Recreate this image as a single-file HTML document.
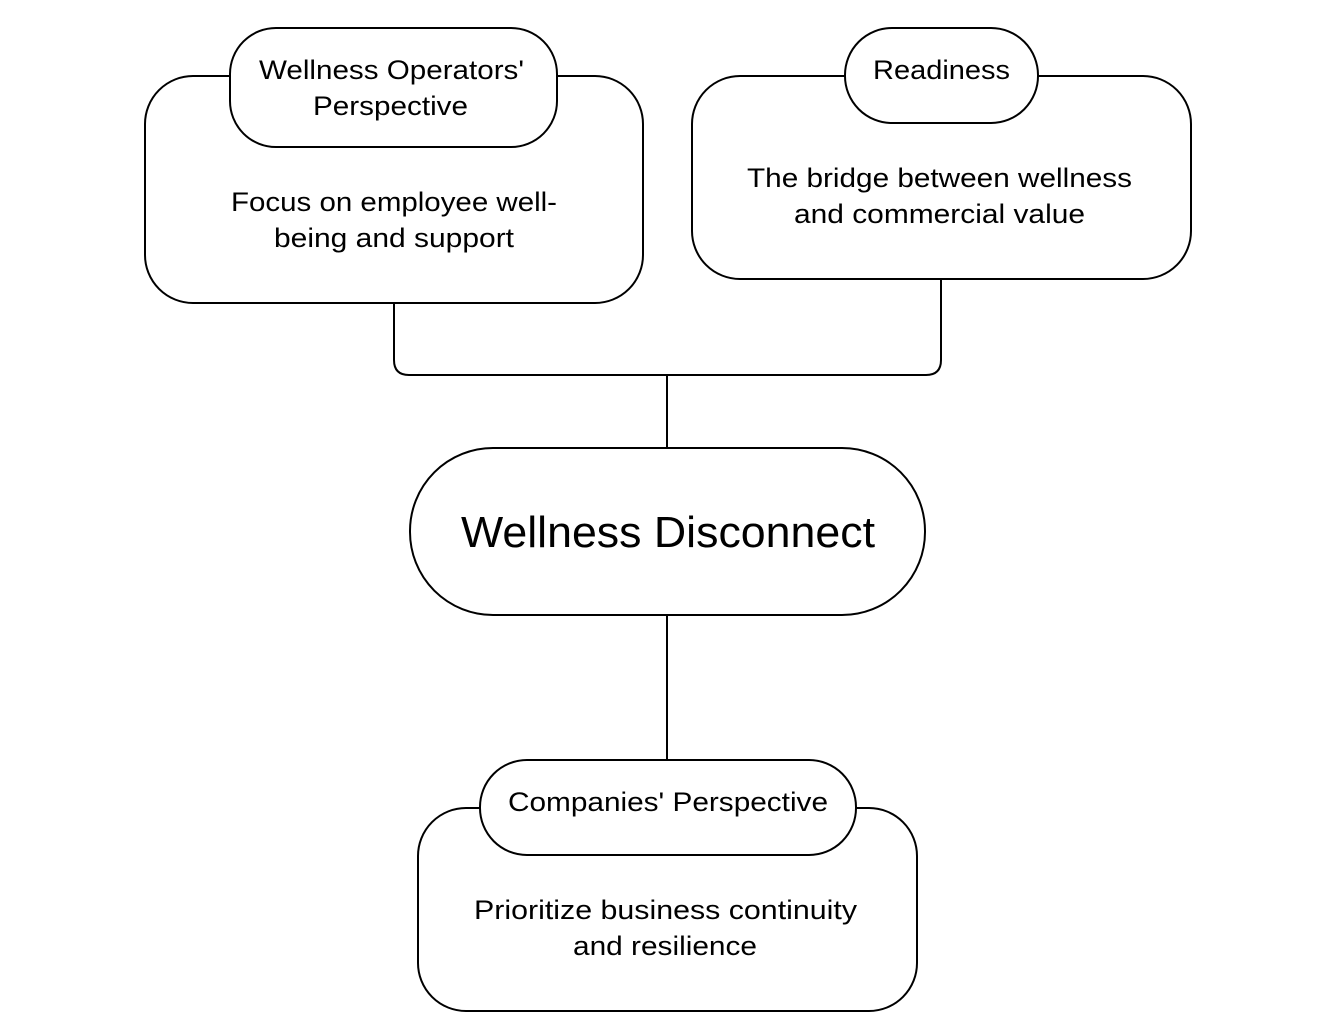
<!DOCTYPE html>
<html><head><meta charset="utf-8"><style>
html,body{margin:0;padding:0;background:#fff;}
svg{display:block;}
text{font-family:"Liberation Sans",sans-serif;fill:#000;text-anchor:middle;}
</style></head><body>
<svg width="1336" height="1032" viewBox="0 0 1336 1032">
<g fill="#fff" stroke="#000" stroke-width="2">
<path d="M394 303 V360 Q394 375 409 375 H926 Q941 375 941 360 V279" fill="none"/>
<line x1="667" y1="375" x2="667" y2="448"/>
<line x1="667" y1="615" x2="667" y2="760"/>
<rect x="145" y="76" width="498" height="227" rx="48"/>
<rect x="230" y="28" width="327" height="119" rx="46"/>
<rect x="692" y="76" width="499" height="203" rx="48"/>
<rect x="845" y="28" width="193" height="95" rx="47"/>
<rect x="410" y="448" width="515" height="167" rx="83"/>
<rect x="418" y="808" width="499" height="203" rx="48"/>
<rect x="480" y="760" width="376" height="95" rx="47"/>
</g>
<g font-size="27" lengthAdjust="spacingAndGlyphs">
<text x="391.5" y="79" textLength="265" lengthAdjust="spacingAndGlyphs">Wellness Operators'</text>
<text x="390.5" y="115" textLength="155" lengthAdjust="spacingAndGlyphs">Perspective</text>
<text x="394" y="211" textLength="326" lengthAdjust="spacingAndGlyphs">Focus on employee well-</text>
<text x="394" y="247" textLength="240" lengthAdjust="spacingAndGlyphs">being and support</text>
<text x="941.5" y="79" textLength="137" lengthAdjust="spacingAndGlyphs">Readiness</text>
<text x="939.5" y="187" textLength="385" lengthAdjust="spacingAndGlyphs">The bridge between wellness</text>
<text x="939.5" y="223" textLength="291" lengthAdjust="spacingAndGlyphs">and commercial value</text>
<text x="668" y="811" textLength="320" lengthAdjust="spacingAndGlyphs">Companies' Perspective</text>
<text x="665.5" y="919" textLength="383" lengthAdjust="spacingAndGlyphs">Prioritize business continuity</text>
<text x="665" y="955" textLength="184" lengthAdjust="spacingAndGlyphs">and resilience</text>
</g>
<text x="668" y="547" font-size="44" textLength="414" lengthAdjust="spacingAndGlyphs">Wellness Disconnect</text>
</svg>
</body></html>
